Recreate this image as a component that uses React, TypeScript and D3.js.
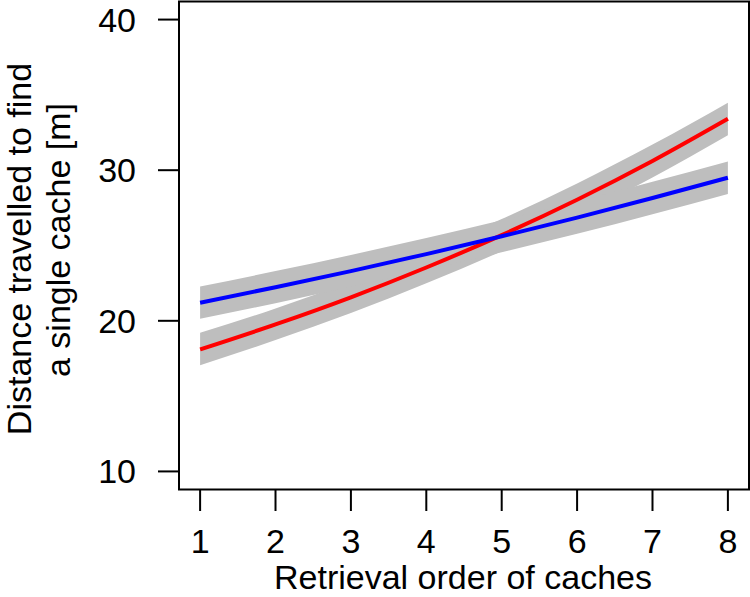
import React, { useEffect, useRef } from 'react';
import * as d3 from 'd3';

// retrieval order on the x axis
const order = [1, 2, 3, 4, 5, 6, 7, 8];

// red group: fitted distance and its band
const redFit = [18.1, 19.76, 21.56, 23.54, 25.69, 28.04, 30.61, 33.41];
const redLo = [17.05, 18.72, 20.52, 22.49, 24.62, 26.96, 29.52, 32.32];
const redHi = [19.2, 20.82, 22.62, 24.6, 26.76, 29.12, 31.7, 34.48];

// blue group
const blueFit = [21.2, 22.23, 23.3, 24.43, 25.61, 26.85, 28.15, 29.5];
const blueLo = [20.13, 21.17, 22.26, 23.38, 24.55, 25.78, 27.08, 28.42];
const blueHi = [22.27, 23.3, 24.37, 25.5, 26.67, 27.92, 29.23, 30.58];

const yTicks = [10, 20, 30, 40];
const xTicks = [1, 2, 3, 4, 5, 6, 7, 8];

const FONT = '"Liberation Sans", Arial, Helvetica, sans-serif';

export default function App() {
    const ref = useRef<SVGSVGElement>(null);

    useEffect(() => {
        const svg = d3.select(ref.current);
        svg.selectAll('*').remove();

        const left = 179, right = 749, top = 1.5, bottom = 489.5;

        // R style 4% padding around 1..8 and 10..40
        const x = d3.scaleLinear().domain([0.72, 8.28]).range([left, right]);
        const y = d3.scaleLinear().domain([8.8, 41.2]).range([bottom, top]);

        const band = (lo: number[], hi: number[]) =>
            d3.area<number>()
                .x((d) => x(d))
                .y0((d, i) => y(lo[i]))
                .y1((d, i) => y(hi[i]))
                .curve(d3.curveMonotoneX)(order);

        const line = (fit: number[]) =>
            d3.line<number>()
                .x((d) => x(d))
                .y((d, i) => y(fit[i]))
                .curve(d3.curveMonotoneX)(order);

        svg.append('path').attr('d', band(redLo, redHi)).attr('fill', '#bebebe');
        svg.append('path').attr('d', band(blueLo, blueHi)).attr('fill', '#bebebe');

        svg.append('path').attr('d', line(redFit))
            .attr('fill', 'none').attr('stroke', '#ff0000').attr('stroke-width', 4);
        svg.append('path').attr('d', line(blueFit))
            .attr('fill', 'none').attr('stroke', '#0000ff').attr('stroke-width', 4);

        // frame
        svg.append('rect')
            .attr('x', left).attr('y', top)
            .attr('width', right - left).attr('height', bottom - top)
            .attr('fill', 'none').attr('stroke', '#000').attr('stroke-width', 2);

        // y axis
        const gy = svg.append('g');
        gy.selectAll('line').data(yTicks).enter().append('line')
            .attr('x1', 158).attr('x2', left)
            .attr('y1', (d) => y(d)).attr('y2', (d) => y(d))
            .attr('stroke', '#000').attr('stroke-width', 2);
        gy.selectAll('text').data(yTicks).enter().append('text')
            .attr('x', 136).attr('y', (d) => y(d) + 12)
            .attr('text-anchor', 'end')
            .attr('font-size', 34).attr('font-family', FONT)
            .text((d) => d);

        // x axis
        const gx = svg.append('g');
        gx.selectAll('line').data(xTicks).enter().append('line')
            .attr('x1', (d) => x(d)).attr('x2', (d) => x(d))
            .attr('y1', bottom).attr('y2', 511)
            .attr('stroke', '#000').attr('stroke-width', 2);
        gx.selectAll('text').data(xTicks).enter().append('text')
            .attr('x', (d) => x(d)).attr('y', 553)
            .attr('text-anchor', 'middle')
            .attr('font-size', 34).attr('font-family', FONT)
            .text((d) => d);

        svg.append('text')
            .attr('x', (left + right) / 2 - 1).attr('y', 589)
            .attr('text-anchor', 'middle')
            .attr('font-size', 34).attr('font-family', FONT)
            .text('Retrieval order of caches');

        svg.append('text')
            .attr('transform', 'translate(31,249) rotate(-90)')
            .attr('text-anchor', 'middle')
            .attr('font-size', 34).attr('font-family', FONT)
            .text('Distance travelled to find');
        svg.append('text')
            .attr('transform', 'translate(70,240) rotate(-90)')
            .attr('text-anchor', 'middle')
            .attr('font-size', 34).attr('font-family', FONT)
            .text('a single cache [m]');
    }, []);

    return (
        <svg ref={ref} width={750} height={597}
            style={{ position: 'absolute', left: 0, top: 0, background: '#fff' }} />
    );
}
